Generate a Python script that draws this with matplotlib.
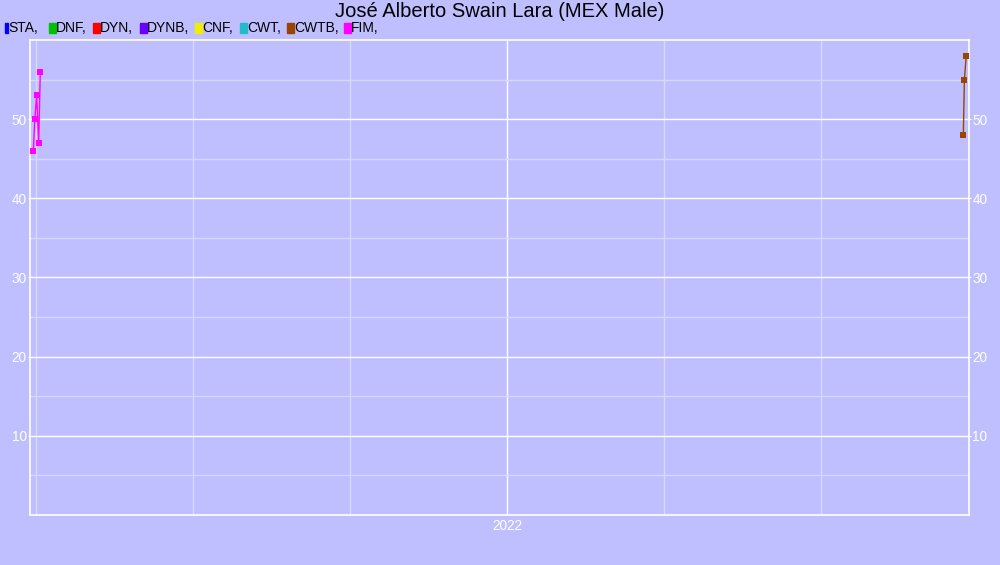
import matplotlib
matplotlib.use("Agg")
import matplotlib.pyplot as plt
import matplotlib.dates as mdates
from matplotlib.ticker import FixedLocator
import numpy as np

plt.rcParams["font.family"] = ["Liberation Sans", "DejaVu Sans"]

# legend disciplines and their colours
disciplines = ["STA", "DNF", "DYN", "DYNB", "CNF", "CWT", "CWTB", "FIM"]
disc_colors = ["#0000ff", "#00c000", "#ff0000", "#6600ff",
               "#eeee00", "#22bbcc", "#994400", "#ff00ff"]

# results (metres) per discipline
fim_dates = ["2021-07-01T00:00", "2021-07-01T14:00", "2021-07-02T07:00",
             "2021-07-03T02:00", "2021-07-03T17:00"]
fim_values = [46, 50, 53, 47, 56]

cwtb_dates = ["2022-06-27T07:00", "2022-06-27T17:00", "2022-06-28T10:00"]
cwtb_values = [48, 55, 58]

title = "José Alberto Swain Lara (MEX Male)"
bg = "#bfbfff"
minor_grid = "#d8d8ff"

# legend item left edges in pixels
legend_x = [5, 49, 93, 140, 195, 240, 287, 344]

fig = plt.figure(figsize=(10, 5.65), dpi=100, facecolor=bg)
ax = fig.add_axes([0.030, 0.0885, 0.939, 0.8407])
ax.set_facecolor(bg)

series = [
    (np.array(fim_dates, dtype="datetime64[m]"), fim_values, disc_colors[7]),
    (np.array(cwtb_dates, dtype="datetime64[m]"), cwtb_values, disc_colors[6]),
]
for d, v, c in series:
    ax.plot(d.astype("O"), v, color=c, lw=1, marker="s", markersize=4.5,
            markeredgewidth=0, zorder=3)

ax.set_ylim(0, 60)
ax.set_xlim(np.datetime64("2021-06-29T17:00").astype("O"),
            np.datetime64("2022-06-29T12:00").astype("O"))

ax.set_yticks([10, 20, 30, 40, 50])
ax.set_yticks([5, 15, 25, 35, 45, 55], minor=True)
ax.xaxis.set_major_locator(mdates.YearLocator())
ax.xaxis.set_major_formatter(mdates.DateFormatter("%Y"))
# grid every 61 days around the year mark
origin = mdates.date2num(np.datetime64("2022-01-01").astype("O"))
ax.xaxis.set_minor_locator(FixedLocator([origin + 61 * k for k in range(-3, 3)]))

ax.grid(which="major", color="white", lw=1, zorder=1)
ax.grid(which="minor", color=minor_grid, lw=1, zorder=0)
for s in ax.spines.values():
    s.set_color("white")
    s.set_linewidth(1.2)

ax.tick_params(axis="y", which="major", colors="white", labelsize=9.8,
               length=1.5, pad=1, left=True, right=True,
               labelleft=True, labelright=True)
ax.tick_params(axis="y", which="minor", length=0)
ax.tick_params(axis="x", which="major", colors="white", labelsize=9.8,
               length=0, pad=3)
ax.tick_params(axis="x", which="minor", length=0)

fig.text(0.5, 0.979, title, ha="center", va="center", fontsize=14.5,
         color="black")

# legend row along the top
y_px = 565 - 28
for i, (name, col) in enumerate(zip(disciplines, disc_colors)):
    w = 3 if i == 0 else 7
    x_px = legend_x[i]
    fig.patches.append(plt.Rectangle((x_px / 1000, (y_px - 5) / 565),
                                     w / 1000, 10 / 565, color=col,
                                     transform=fig.transFigure, figure=fig))
    fig.text((x_px + w) / 1000, y_px / 565, name + ",", ha="left",
             va="center", fontsize=10, color="black")

fig.savefig("out.png", dpi=100, facecolor=bg)
